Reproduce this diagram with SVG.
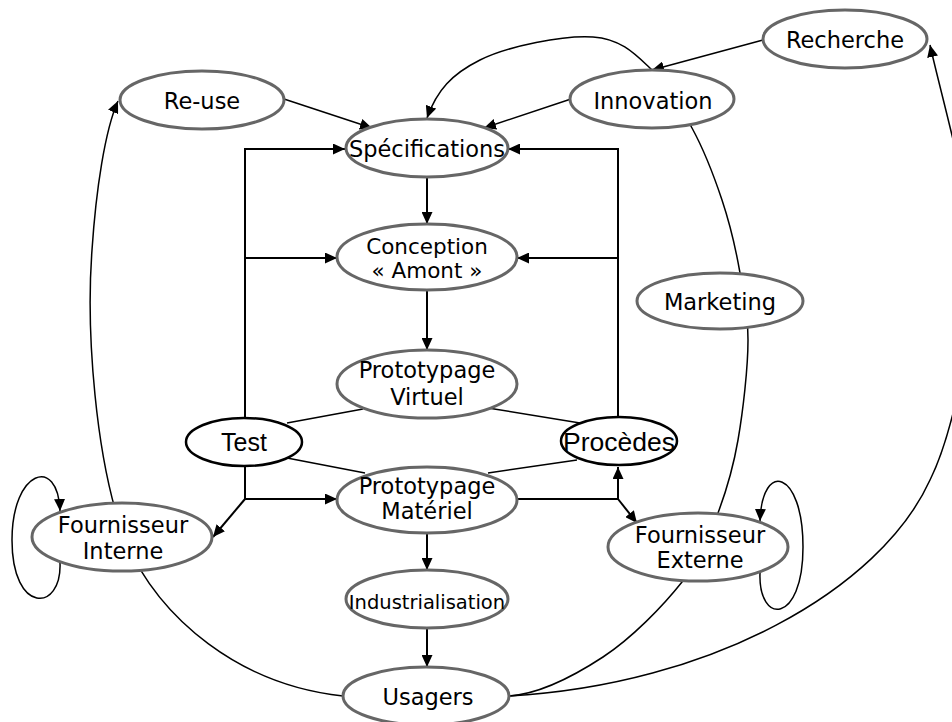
<svg xmlns="http://www.w3.org/2000/svg" width="952" height="722" viewBox="0 0 952 722">
<defs>
<marker id="ah" viewBox="0 0 12 11" refX="12" refY="5.5" markerWidth="12" markerHeight="11" markerUnits="userSpaceOnUse" orient="auto"><path d="M0,0 L12,5.5 L0,11 z" fill="#000"/></marker>
<style>
.n{fill:#fff;stroke:#666;stroke-width:3}
.b{fill:#fff;stroke:#000;stroke-width:2.5}
.t{font-family:"DejaVu Sans",Verdana,sans-serif;font-size:22.5px;fill:#000;text-anchor:middle}
.a{font-family:"Liberation Sans",Arial,sans-serif;font-size:25px;fill:#000;text-anchor:middle}
.c{fill:none;stroke:#000;stroke-width:1.5}
.o{fill:none;stroke:#000;stroke-width:2}
.m{marker-end:url(#ah)}
</style>
</defs>
<rect width="952" height="722" fill="#fff"/>
<g id="connectors">
<path class="c m" d="M284,99 L372,128"/>
<path class="c m" d="M571,99 L484,128"/>
<path class="c m" d="M763,40 L652,70"/>
<path class="o m" d="M427,178 L427,224"/>
<path class="o m" d="M427,290 L427,350"/>
<path class="o m" d="M427,533 L427,570"/>
<path class="o m" d="M427,629 L427,667"/>
<path class="o m" d="M245,418 V149 H345"/>
<path class="o m" d="M245,258 H337"/>
<path class="o m" d="M618,417 V149 H508"/>
<path class="o m" d="M618,258 H517"/>
<path class="o m" d="M245,466 V499 H337"/>
<path class="o m" d="M245,499 L213,537"/>
<path class="o m" d="M517,499 H618 V467"/>
<path class="o m" d="M618,499 L637,523"/>
<path class="c" d="M287,423 L363,409"/>
<path class="c" d="M287,458 L365,473"/>
<path class="c" d="M488,408 L580,423"/>
<path class="c" d="M488,473 L577,460"/>
<path class="c m" d="M509,696 C540,694 574,676 603,657 C632,638 663,606 682,582 C701,558 709,537 718,513 C727,489 733,469 738,440 C743,411 748,368 748,340 C748,312 744,296 740,273 C736,250 730,224 722,200 C714,176 704,150 692,128 C680,106 668,85 652,70 C636,55 622,39 593,37 C564,35 508,46 480,60 C452,74 437,90 427,118"/>
<path class="c m" d="M509,696 C710,685 880,590 930,480 C955,430 980,300 975,250 C968,190 940,90 930,45"/>
<path class="c m" d="M343,696 C240,685 160,620 125,540 C95,460 86,330 92,250 C96,190 105,130 118,101"/>
<path class="c m" d="M60,563 C62,612 12,615 12,540 C12,470 58,455 60,511"/>
<path class="c m" d="M760,573 C758,625 803,625 803,547 C803,470 762,460 760,521"/>
</g>
<g id="reuse"><ellipse class="n" cx="202" cy="100" rx="82" ry="29"/><text class="t" x="202" y="109">Re-use</text></g>
<g id="recherche"><ellipse class="n" cx="845" cy="39" rx="82" ry="29"/><text class="t" x="845" y="48">Recherche</text></g>
<g id="innovation"><ellipse class="n" cx="652" cy="99" rx="82" ry="29"/><text class="t" x="653" y="109">Innovation</text></g>
<g id="specifications"><ellipse class="n" cx="427" cy="148" rx="81" ry="29"/><text class="t" x="427" y="157">Spécifications</text></g>
<g id="conception"><ellipse class="n" cx="427" cy="257" rx="90" ry="33"/><text class="t" x="427" y="254" style="font-size:21.5px">Conception</text><text class="t" x="427" y="278" style="font-size:21.5px">« Amont »</text></g>
<g id="marketing"><ellipse class="n" cx="720" cy="301" rx="83" ry="28"/><text class="t" x="720" y="310">Marketing</text></g>
<g id="proto-virtuel"><ellipse class="n" cx="427" cy="384" rx="90" ry="34"/><text class="t" x="427" y="378">Prototypage</text><text class="t" x="427" y="405">Virtuel</text></g>
<g id="test"><ellipse class="b" cx="244" cy="442" rx="58" ry="24"/><text class="a" x="244" y="451">Test</text></g>
<g id="procedes"><ellipse class="b" cx="619" cy="441" rx="58" ry="24"/><text class="a" x="619" y="451" style="font-size:26.5px">Procèdes</text></g>
<g id="proto-materiel"><ellipse class="n" cx="427" cy="500" rx="90" ry="33"/><text class="t" x="427" y="494">Prototypage</text><text class="t" x="427" y="519">Matériel</text></g>
<g id="fournisseur-interne"><ellipse class="n" cx="122" cy="537" rx="90" ry="34"/><text class="t" x="123" y="533">Fournisseur</text><text class="t" x="123" y="559">Interne</text></g>
<g id="fournisseur-externe"><ellipse class="n" cx="698" cy="547" rx="90" ry="34"/><text class="t" x="700" y="543">Fournisseur</text><text class="t" x="700" y="568">Externe</text></g>
<g id="industrialisation"><ellipse class="n" cx="427" cy="599" rx="81" ry="29"/><text class="t" x="427" y="609" style="font-size:19.5px">Industrialisation</text></g>
<g id="usagers"><ellipse class="n" cx="426" cy="696" rx="83" ry="29"/><text class="t" x="428" y="705">Usagers</text></g>
</svg>
